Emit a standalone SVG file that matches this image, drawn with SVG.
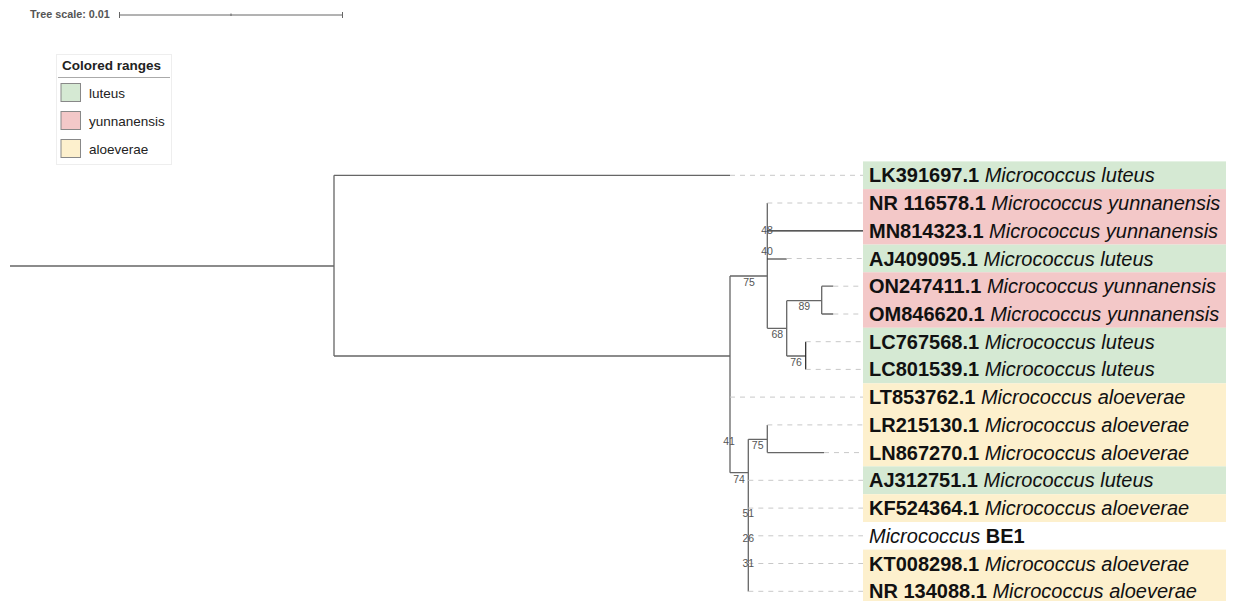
<svg xmlns="http://www.w3.org/2000/svg" width="1237" height="601" viewBox="0 0 1237 601">
<style>
.br{stroke:#666;stroke-width:1.3;fill:none}
.brd{stroke:#222;stroke-width:1.2;fill:none}
.dash{stroke:#c8c8c8;stroke-width:1;stroke-dasharray:5,5;fill:none}
.bs{font-family:"Liberation Sans",Arial,sans-serif;font-size:10.5px;fill:#555;text-anchor:middle}
.lab{font-family:"Liberation Sans",Arial,sans-serif;font-size:20px;fill:#111}
.b{font-weight:bold}
.i{font-style:italic}
.g{fill:#d5e9d3}
.p{fill:#f3c8c8}
.y{fill:#fdf0cd}
.leg{font-family:"Liberation Sans",Arial,sans-serif;font-size:13.5px;fill:#222}
</style>
<rect width="1237" height="601" fill="#fff"/>
<g id="scale">
<text x="30" y="18" font-family="Liberation Sans,Arial,sans-serif" font-size="10.8" font-weight="bold" fill="#555">Tree scale: 0.01</text>
<path d="M119.5 15H342.5M119.5 12V18M342.5 12V18M231 13.5V16" stroke="#666" stroke-width="1" fill="none"/>
</g>
<g id="legend">
<rect x="56.5" y="54.5" width="115" height="110" fill="#fff" stroke="#eee"/>
<text x="62" y="69.5" class="leg b" fill="#111">Colored ranges</text>
<line x1="58" y1="77.5" x2="170" y2="77.5" stroke="#aaa"/>
<rect x="61" y="83.5" width="19.5" height="18" class="g" stroke="#888"/>
<rect x="61" y="111.5" width="19.5" height="18" class="p" stroke="#888"/>
<rect x="61" y="139.5" width="19.5" height="18" class="y" stroke="#888"/>
<text x="89" y="97.5" class="leg">luteus</text>
<text x="89" y="125.5" class="leg">yunnanensis</text>
<text x="89" y="153.5" class="leg">aloeverae</text>
</g>
<g id="bands">
<rect x="863" y="161.4" width="363" height="27.8" class="g"/>
<rect x="863" y="189.1" width="363" height="55.5" class="p"/>
<rect x="863" y="244.6" width="363" height="27.8" class="g"/>
<rect x="863" y="272.3" width="363" height="55.5" class="p"/>
<rect x="863" y="327.8" width="363" height="55.5" class="g"/>
<rect x="863" y="383.3" width="363" height="83.2" class="y"/>
<rect x="863" y="466.4" width="363" height="27.8" class="g"/>
<rect x="863" y="494.2" width="363" height="27.8" class="y"/>
<rect x="863" y="549.6" width="363" height="55.5" class="y"/>
</g>
<g id="connectors">
<path class="br" d="M10 266H334M334 175.3V356M334 175.3H730M334 356H730"/>
<path class="br" d="M730 276V472.7M730 276H767.3M730 472.7H748.3"/>
<path class="br" d="M767.3 203V328.3M767.3 328.3H786.7"/>
<path class="brd" d="M767.3 230.8H863M767.3 259H786.7"/>
<path class="br" d="M786.7 300.7V356M786.7 300.7H821.7M786.7 356H805.7"/>
<path class="br" d="M821.7 286.2V314M821.7 286.2H833.3M821.7 314H833.3"/>
<path class="brd" d="M805.7 341.7V369.4"/>
<path class="br" d="M748.3 439.3V591.5M748.3 439.3H767.3M767.3 424.9V452.6M767.3 452.6H824"/>
<path class="dash" d="M730 175.3H863M767.3 203H863M786.7 258.5H863M833.3 286.2H863M833.3 314H863M805.7 341.7H863M805.7 369.4H863M730 397.1H863M767.3 424.9H863M824 452.6H863M748.3 480.3H863M748.3 508.1H863M748.3 535.8H863M748.3 563.5H863M748.3 591.3H863"/>
</g>
<g id="bootstrap">
<text class="bs" x="767" y="233.7">48</text>
<text class="bs" x="767" y="254.5">40</text>
<text class="bs" x="749" y="286">75</text>
<text class="bs" x="804.3" y="309.8">89</text>
<text class="bs" x="777.3" y="337.8">68</text>
<text class="bs" x="796" y="365.5">76</text>
<text class="bs" x="729" y="444.5">41</text>
<text class="bs" x="757.7" y="448.8">75</text>
<text class="bs" x="739" y="483.1">74</text>
<text class="bs" x="748.3" y="516.5">51</text>
<text class="bs" x="748.3" y="542.1">26</text>
<text class="bs" x="748.3" y="566.5">31</text>
</g>
<g id="leaf-LK391697"><text class="lab" x="869" y="182.3"><tspan class="b">LK391697.1</tspan> <tspan class="i">Micrococcus luteus</tspan></text></g>
<g id="leaf-NR116578"><text class="lab" x="869" y="210"><tspan class="b">NR 116578.1</tspan> <tspan class="i">Micrococcus yunnanensis</tspan></text></g>
<g id="leaf-MN814323"><text class="lab" x="869" y="237.8"><tspan class="b">MN814323.1</tspan> <tspan class="i">Micrococcus yunnanensis</tspan></text></g>
<g id="leaf-AJ409095"><text class="lab" x="869" y="265.5"><tspan class="b">AJ409095.1</tspan> <tspan class="i">Micrococcus luteus</tspan></text></g>
<g id="leaf-ON247411"><text class="lab" x="869" y="293.2"><tspan class="b">ON247411.1</tspan> <tspan class="i">Micrococcus yunnanensis</tspan></text></g>
<g id="leaf-OM846620"><text class="lab" x="869" y="321"><tspan class="b">OM846620.1</tspan> <tspan class="i">Micrococcus yunnanensis</tspan></text></g>
<g id="leaf-LC767568"><text class="lab" x="869" y="348.7"><tspan class="b">LC767568.1</tspan> <tspan class="i">Micrococcus luteus</tspan></text></g>
<g id="leaf-LC801539"><text class="lab" x="869" y="376.4"><tspan class="b">LC801539.1</tspan> <tspan class="i">Micrococcus luteus</tspan></text></g>
<g id="leaf-LT853762"><text class="lab" x="869" y="404.1"><tspan class="b">LT853762.1</tspan> <tspan class="i">Micrococcus aloeverae</tspan></text></g>
<g id="leaf-LR215130"><text class="lab" x="869" y="431.9"><tspan class="b">LR215130.1</tspan> <tspan class="i">Micrococcus aloeverae</tspan></text></g>
<g id="leaf-LN867270"><text class="lab" x="869" y="459.6"><tspan class="b">LN867270.1</tspan> <tspan class="i">Micrococcus aloeverae</tspan></text></g>
<g id="leaf-AJ312751"><text class="lab" x="869" y="487.3"><tspan class="b">AJ312751.1</tspan> <tspan class="i">Micrococcus luteus</tspan></text></g>
<g id="leaf-KF524364"><text class="lab" x="869" y="515.1"><tspan class="b">KF524364.1</tspan> <tspan class="i">Micrococcus aloeverae</tspan></text></g>
<g id="leaf-BE1"><text class="lab" x="869" y="542.8"><tspan class="i">Micrococcus</tspan> <tspan class="b">BE1</tspan></text></g>
<g id="leaf-KT008298"><text class="lab" x="869" y="570.5"><tspan class="b">KT008298.1</tspan> <tspan class="i">Micrococcus aloeverae</tspan></text></g>
<g id="leaf-NR134088"><text class="lab" x="869" y="598.3"><tspan class="b">NR 134088.1</tspan> <tspan class="i">Micrococcus aloeverae</tspan></text></g>
</svg>
